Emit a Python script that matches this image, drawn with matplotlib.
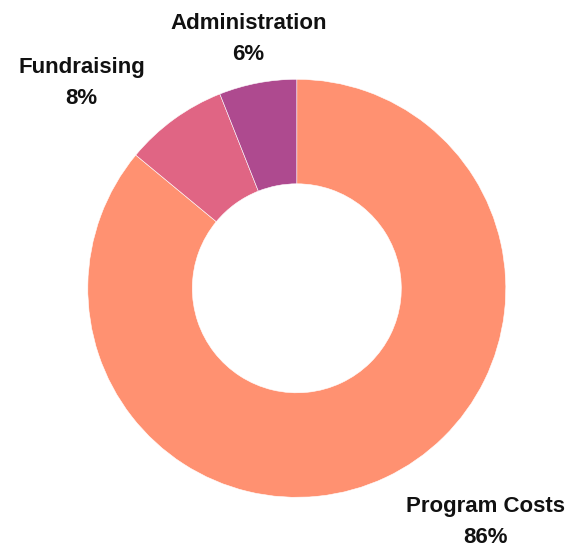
import matplotlib
matplotlib.use("Agg")
import matplotlib.pyplot as plt

categories = ["Program Costs", "Fundraising", "Administration"]
values = [86, 8, 6]
colors = ["#FF9171", "#E06584", "#AE4A8F"]

W, H = 582, 546
CX, CY, R = 296.8, 288.3, 209.0

def px(x, y):
    return ((x - CX) / R, (CY - y) / R)

fig = plt.figure(figsize=(W / 100, H / 100), dpi=100)
ax = fig.add_axes([0, 0, 1, 1])
ax.pie(values, colors=colors, startangle=90, counterclock=False, radius=1.0,
       wedgeprops=dict(width=0.5, edgecolor="white", linewidth=0.4))
x0, y0 = px(0, 0)
x1, y1 = px(W, H)
ax.set_xlim(x0, x1)
ax.set_ylim(y1, y0)
ax.set_aspect("equal")
ax.axis("off")

# label positions (px): (center x, baseline of name, baseline of pct)
label_pos = {
    "Program Costs": (486, 512, 543),
    "Fundraising": (81.5, 73.5, 104.5),
    "Administration": (248.5, 29, 60),
}
font = dict(family=["Liberation Sans", "DejaVu Sans"], fontsize=16, fontweight="bold", color="#111111")
for cat, v in zip(categories, values):
    lx, b1, b2 = label_pos[cat]
    ax.text(*px(lx, b1), cat, ha="center", va="baseline", **font)
    ax.text(*px(lx, b2), f"{v}%", ha="center", va="baseline", **font)

fig.savefig("out.png", dpi=100, facecolor="white")
